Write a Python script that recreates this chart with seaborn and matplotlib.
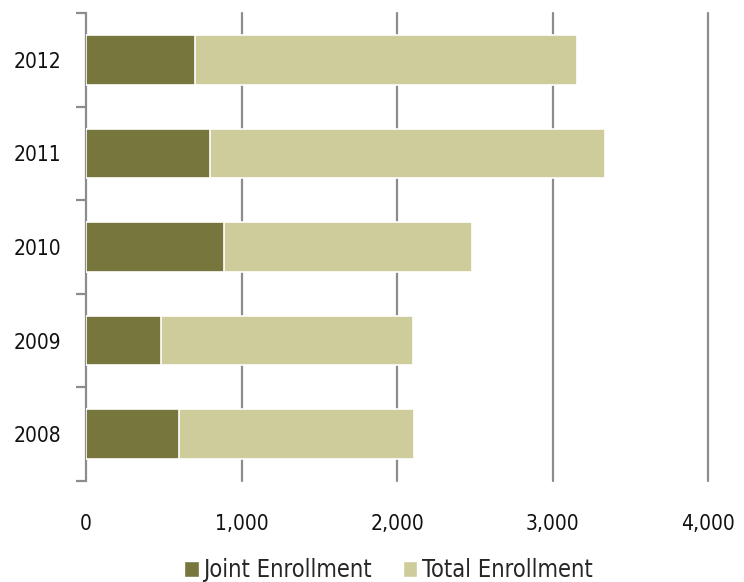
import matplotlib
matplotlib.use("Agg")
import matplotlib.pyplot as plt
from matplotlib.patches import Patch
import seaborn as sns
import pandas as pd

years = ["2012", "2011", "2010", "2009", "2008"]
joint = [700, 800, 890, 480, 600]
total = [2460, 2540, 1590, 1620, 1510]
xticks = [0, 1000, 2000, 3000, 4000]
xticklabels = ["0", "1,000", "2,000", "3,000", "4,000"]

sns.set_theme(style="white")
plt.rcParams["font.family"] = ["DejaVu Sans"]
plt.rcParams["font.stretch"] = "condensed"

dark = "#77763C"
light = "#CECC9A"

df = pd.DataFrame({"year": years, "joint": joint, "total": total})
df["end"] = df["joint"] + df["total"]

fig = plt.figure(figsize=(7.44, 5.82), dpi=100)
ax = fig.add_axes([86/744, 1-481/582, (708-86)/744, (481-13)/582])

sns.barplot(data=df, y="year", x="end", order=years, color=light, orient="h",
            width=0.53, edgecolor="white", linewidth=1.2, saturation=1, ax=ax, zorder=3)
sns.barplot(data=df, y="year", x="joint", order=years, color=dark, orient="h",
            width=0.53, edgecolor="white", linewidth=1.2, saturation=1, ax=ax, zorder=4)

ax.set_xlim(0, 4000)
ax.set_ylim(4.5, -0.5)
ax.set_xlabel("")
ax.set_ylabel("")
ax.set_xticks(xticks)
ax.set_xticklabels(xticklabels, fontsize=15, color="#111111")
ax.tick_params(axis="x", length=0, pad=24)
ax.set_yticks(range(len(years)))
ax.set_yticklabels(years, fontsize=15, color="#111111")
ax.tick_params(axis="y", which="major", left=False, length=0, pad=18)
ax.set_yticks([i - 0.5 for i in range(len(years) + 1)], minor=True)
ax.tick_params(axis="y", which="minor", left=True, length=7, width=1.6,
               color="#8c8c8c", direction="out")

for x in xticks[1:]:
    ax.axvline(x, color="#8c8c8c", linewidth=1.6, zorder=1, clip_on=False)

for s in ["top", "right", "bottom"]:
    ax.spines[s].set_visible(False)
ax.spines["left"].set_color("#8c8c8c")
ax.spines["left"].set_linewidth(1.6)
ax.grid(False)

handles = [Patch(facecolor=dark, edgecolor="white"), Patch(facecolor=light, edgecolor="white")]
fig.legend(handles, ["Joint Enrollment", "Total Enrollment"], loc="center",
           bbox_to_anchor=(0.522, 0.02), ncol=2, frameon=False, fontsize=17,
           handlelength=0.6, handleheight=0.7, handletextpad=0.2, columnspacing=1.3)

fig.savefig("out.png", dpi=100)
